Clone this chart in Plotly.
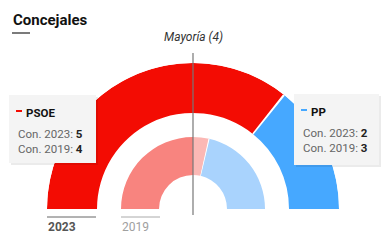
import plotly.graph_objects as go

parties = ["PSOE", "PP"]
seats_2023 = [5, 2]
seats_2019 = [4, 3]
majority = 4
years = ["2023", "2019"]

colors_2023 = ["#f30c03", "#46a8ff"]
colors_2019 = ["#f8847f", "#a9d3fd"]
color_2019_over = "#fbb8b5"

W, H = 387, 247
cx, cy, R = 193, 209, 146

fig = go.Figure()

def px_x(x):
    return x / W

def px_y(y):
    return 1 - y / H

total = sum(seats_2023)

def add_ring(values, colors, r_in, r_out, split_half=False, over_color=None):
    start = 0.0
    for v, c, name in zip(values, colors, parties):
        a0 = start / total * 180
        a1 = (start + v) / total * 180
        if split_half and a0 < 90 < a1:
            pieces = [(a0, 90, c), (90, a1, over_color)]
        else:
            pieces = [(a0, a1, c)]
        for p0, p1, pc in pieces:
            fig.add_trace(go.Barpolar(
                theta=[(p0 + p1) / 2], width=[p1 - p0],
                r=[r_out - r_in], base=[r_in],
                marker=dict(color=pc, line=dict(color=pc, width=0)),
                hoverinfo="skip", showlegend=False))
        start += v
    start = 0
    for v in values[:-1]:
        start += v
        a = start / total * 180
        fig.add_trace(go.Barpolar(theta=[a], width=[0.9], r=[r_out - r_in], base=[r_in],
                                  marker=dict(color="white", line=dict(width=0)),
                                  hoverinfo="skip", showlegend=False))

add_ring(seats_2023, colors_2023, 96, 146)
add_ring(seats_2019, colors_2019, 34, 72, split_half=True, over_color=color_2019_over)

fig.update_layout(
    width=W, height=H,
    margin=dict(l=0, r=0, t=0, b=0),
    paper_bgcolor="white", plot_bgcolor="white",
    font=dict(family="Roboto, sans-serif"),
    polar=dict(
        domain=dict(x=[px_x(cx - R), px_x(cx + R)], y=[px_y(cy), px_y(cy - R)]),
        sector=[0, 180],
        bgcolor="rgba(0,0,0,0)",
        barmode="overlay",
        radialaxis=dict(range=[0, R], visible=False, showgrid=False),
        angularaxis=dict(rotation=180, direction="clockwise", visible=False,
                         showgrid=False, thetaunit="degrees"),
    ),
)

shapes = []
annotations = []

shapes.append(dict(type="line", xref="paper", yref="paper",
                   x0=px_x(cx), x1=px_x(cx), y0=px_y(53), y1=px_y(215),
                   line=dict(color="#777777", width=1.2)))
annotations.append(dict(text=f"<i>Mayoría ({majority})</i>", x=px_x(cx), y=px_y(37),
                        xref="paper", yref="paper", showarrow=False,
                        font=dict(size=12, color="#333333"), xanchor="center", yanchor="middle"))

annotations.append(dict(text="<b>Concejales</b>", x=px_x(11), y=px_y(20), xref="paper", yref="paper",
                        showarrow=False, font=dict(size=15, color="#111111"),
                        xanchor="left", yanchor="middle"))
shapes.append(dict(type="line", xref="paper", yref="paper", x0=px_x(12), x1=px_x(30),
                   y0=px_y(33), y1=px_y(33), line=dict(color="#222222", width=1.2)))

boxes = [(9, 96, 95, 163), (294, 379, 94, 165)]
for i, (x0, x1, y0, y1) in enumerate(boxes):
    shapes.append(dict(type="rect", xref="paper", yref="paper",
                       x0=px_x(x0 + 2), x1=px_x(x1 + 2), y0=px_y(y1 + 2), y1=px_y(y0 + 2),
                       fillcolor="rgba(0,0,0,0.08)", line=dict(width=0)))
    shapes.append(dict(type="rect", xref="paper", yref="paper",
                       x0=px_x(x0), x1=px_x(x1), y0=px_y(y1), y1=px_y(y0),
                       fillcolor="#f4f4f4", line=dict(width=0)))
    tx = x0 + 7
    shapes.append(dict(type="line", xref="paper", yref="paper",
                       x0=px_x(tx), x1=px_x(tx + 6), y0=px_y(y0 + 16), y1=px_y(y0 + 16),
                       line=dict(color=colors_2023[i], width=2)))
    annotations.append(dict(text=f"<b>{parties[i]}</b>", x=px_x(tx + 8), y=px_y(y0 + 18),
                            xref="paper", yref="paper", showarrow=False,
                            font=dict(size=11.5, color="#111111"), xanchor="left", yanchor="middle"))
    annotations.append(dict(text=f"Con. {years[0]}: <b><span style='color:#222'>{seats_2023[i]}</span></b>",
                            x=px_x(tx), y=px_y(y0 + 39), xref="paper", yref="paper", showarrow=False,
                            font=dict(size=11.5, color="#666666"), xanchor="left", yanchor="middle"))
    annotations.append(dict(text=f"Con. {years[1]}: <b><span style='color:#222'>{seats_2019[i]}</span></b>",
                            x=px_x(tx), y=px_y(y0 + 54), xref="paper", yref="paper", showarrow=False,
                            font=dict(size=11.5, color="#666666"), xanchor="left", yanchor="middle"))

shapes.append(dict(type="line", xref="paper", yref="paper", x0=px_x(47), x1=px_x(96),
                   y0=px_y(217), y1=px_y(217), line=dict(color="#666666", width=1)))
annotations.append(dict(text=f"<b>{years[0]}</b>", x=px_x(46), y=px_y(227), xref="paper", yref="paper",
                        showarrow=False, font=dict(size=12, color="#555555"), xanchor="left", yanchor="middle"))
shapes.append(dict(type="line", xref="paper", yref="paper", x0=px_x(121), x1=px_x(160),
                   y0=px_y(217), y1=px_y(217), line=dict(color="#aaaaaa", width=1)))
annotations.append(dict(text=years[1], x=px_x(120), y=px_y(227), xref="paper", yref="paper",
                        showarrow=False, font=dict(size=12, color="#a0a0a0"), xanchor="left", yanchor="middle"))

fig.update_layout(shapes=shapes, annotations=annotations)
fig.write_html("out.html")
